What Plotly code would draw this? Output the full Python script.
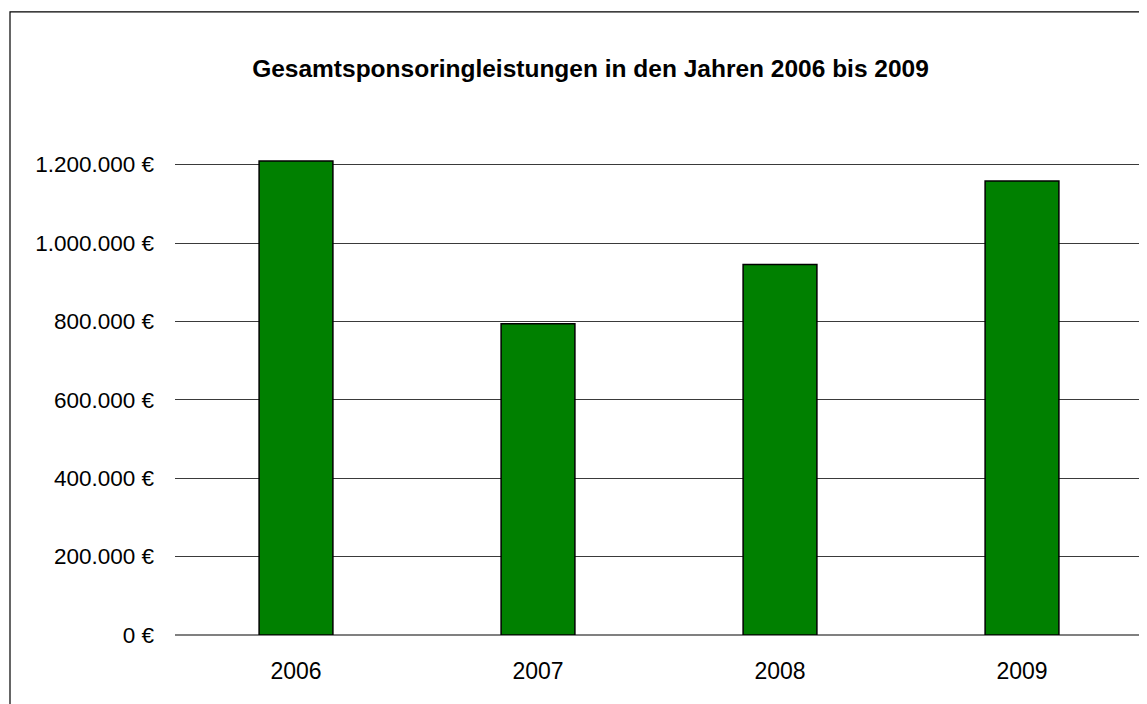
import plotly.graph_objects as go

years = ["2006", "2007", "2008", "2009"]
values = [1209000, 794000, 945000, 1158000]
y_tick_vals = [0, 200000, 400000, 600000, 800000, 1000000, 1200000]
y_tick_text = ["0 €", "200.000 €", "400.000 €", "600.000 €", "800.000 €", "1.000.000 €", "1.200.000 €"]
title_text = "Gesamtsponsoringleistungen in den Jahren 2006 bis 2009"

# page body has an 8px margin; compensate
OFF = 8
W, H = 1147, 704
L, T = 175 - OFF, 145 - OFF
pw, ph = 968, 489.7
R = W - L - pw
B = H - T - ph

fig = go.Figure(go.Bar(
    x=years, y=values,
    marker=dict(color="#008000", line=dict(color="#000000", width=1.5)),
    width=0.305,
    cliponaxis=False,
))

fig.update_layout(
    width=W, height=H,
    margin=dict(l=L, r=R, t=T, b=B, pad=0),
    paper_bgcolor="white", plot_bgcolor="white",
    font=dict(family="Liberation Sans, Arial, sans-serif", color="#000000", size=20),
    showlegend=False,
    title=dict(text="<b>" + title_text + "</b>", x=(590.5 - OFF) / W, xanchor="center",
               y=1 - (68 - OFF) / H, yanchor="middle", xref="container", yref="container",
               font=dict(size=24.5, color="#000000")),
    xaxis=dict(showgrid=False, showline=False, ticks="", ticklabelstandoff=20,
               tickfont=dict(size=23)),
    yaxis=dict(range=[0, 1250000], tickvals=y_tick_vals, ticktext=y_tick_text,
               showgrid=True, gridcolor="#3a3a3a", gridwidth=1,
               zeroline=True, zerolinecolor="#808080", zerolinewidth=2,
               showline=False, ticks="", ticklabelstandoff=20,
               tickfont=dict(size=22.5)),
    shapes=[dict(type="rect", xref="paper", yref="paper",
                 x0=(10 - 175) / pw, x1=(1160 - 175) / pw,
                 y0=-0.2, y1=(634.7 - 12) / ph,
                 line=dict(color="#000000", width=1.2), fillcolor="rgba(0,0,0,0)",
                 layer="below")],
)

fig.write_html("out.html")
